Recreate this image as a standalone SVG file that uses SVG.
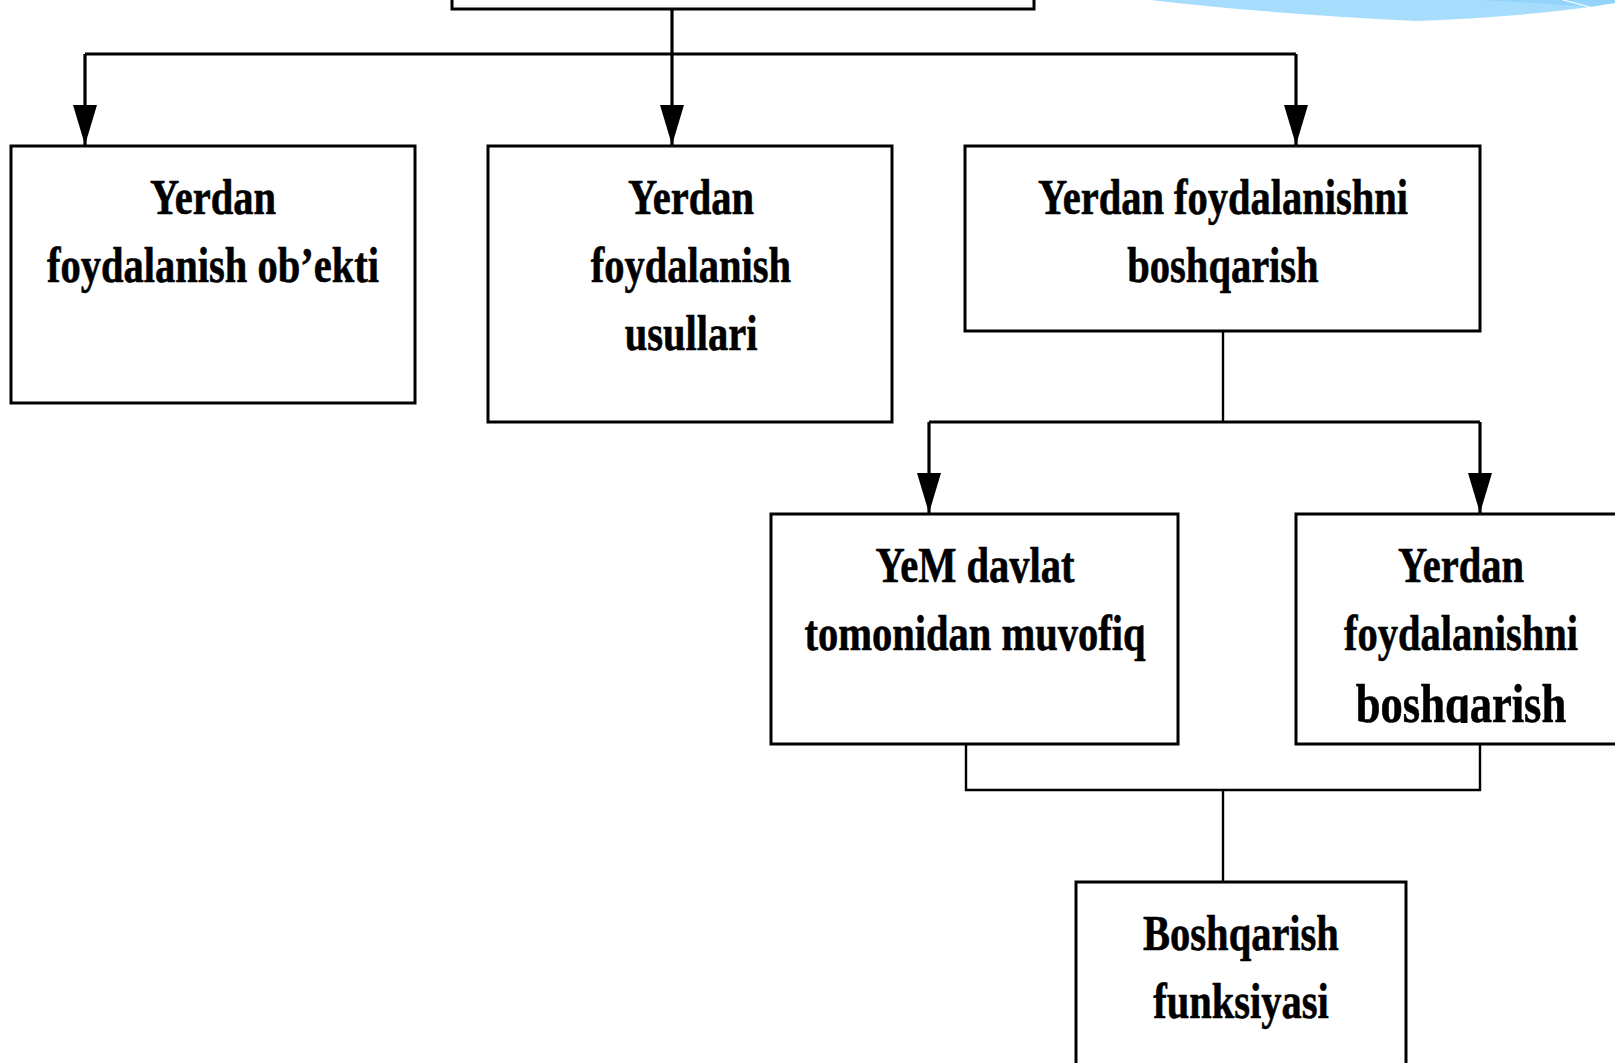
<svg xmlns="http://www.w3.org/2000/svg" width="1615" height="1063" viewBox="0 0 1615 1063">
  <style>
    .box { fill: #ffffff; stroke: #000000; stroke-width: 3; }
    .lbl { font-family: "Liberation Serif", "Times New Roman", serif; font-weight: bold; font-size: 50px; fill: #000000; stroke: #000000; stroke-width: 0.6; text-anchor: middle; }
    .thick { fill: none; stroke: #000000; stroke-width: 3.2; }
    .thin { fill: none; stroke: #000000; stroke-width: 2.4; }
  </style>
  <defs>
    <marker id="arrow" markerUnits="userSpaceOnUse" markerWidth="40" markerHeight="24" viewBox="0 0 40 24" refX="40" refY="12" orient="auto">
      <path d="M0,0 L40,12 L0,24 Z" fill="#000000"/>
    </marker>
    <clipPath id="clip5">
      <rect x="1296" y="514" width="400" height="209"/>
    </clipPath>
  </defs>
  <rect x="0" y="0" width="1615" height="1063" fill="#ffffff"/>

  <g id="decoration">
    <path d="M1150,0 Q1270,14 1417,21 Q1540,16 1615,3 L1615,0 Z" fill="#a7ddfc"/>
    <path d="M1477,0 L1615,0 L1615,3 Q1600,5 1590,7 Q1540,3 1477,0 Z" fill="#93d4fb"/>
    <path d="M1563,0 L1590,7" stroke="#ffffff" stroke-width="1.2" fill="none"/>
  </g>

  <g id="connectors">
    <path class="thick" d="M672,9 V54"/>
    <path class="thick" d="M85,54 H1296"/>
    <path class="thick" d="M85,54 V145" marker-end="url(#arrow)"/>
    <path class="thick" d="M672,54 V145" marker-end="url(#arrow)"/>
    <path class="thick" d="M1296,54 V145" marker-end="url(#arrow)"/>
    <path class="thin" d="M1223,331 V422"/>
    <path class="thick" d="M929,422 H1480"/>
    <path class="thick" d="M929,422 V513" marker-end="url(#arrow)"/>
    <path class="thick" d="M1480,422 V513" marker-end="url(#arrow)"/>
    <path class="thin" d="M966,744 V790 H1480 V744"/>
    <path class="thin" d="M1223,790 V882"/>
  </g>

  <g id="node-top">
    <rect class="box" x="452" y="-60" width="582" height="69"/>
  </g>

  <g id="node-obekti">
    <rect class="box" x="11" y="146" width="404" height="257"/>
    <text class="lbl" transform="translate(213 0) scale(0.81 1)" x="0" y="214">Yerdan</text>
    <text class="lbl" transform="translate(213 0) scale(0.81 1)" x="0" y="282">foydalanish ob’ekti</text>
  </g>

  <g id="node-usullari">
    <rect class="box" x="488" y="146" width="404" height="276"/>
    <text class="lbl" transform="translate(691 0) scale(0.81 1)" x="0" y="214">Yerdan</text>
    <text class="lbl" transform="translate(691 0) scale(0.81 1)" x="0" y="282">foydalanish</text>
    <text class="lbl" transform="translate(691 0) scale(0.81 1)" x="0" y="350">usullari</text>
  </g>

  <g id="node-boshqarish">
    <rect class="box" x="965" y="146" width="515" height="185"/>
    <text class="lbl" transform="translate(1223 0) scale(0.81 1)" x="0" y="214">Yerdan foydalanishni</text>
    <text class="lbl" transform="translate(1223 0) scale(0.81 1)" x="0" y="282">boshqarish</text>
  </g>

  <g id="node-yem">
    <rect class="box" x="771" y="514" width="407" height="230"/>
    <text class="lbl" transform="translate(975 0) scale(0.81 1)" x="0" y="582">YeM davlat</text>
    <text class="lbl" transform="translate(975 0) scale(0.81 1)" x="0" y="650">tomonidan muvofiq</text>
  </g>

  <g id="node-boshqarish2">
    <rect class="box" x="1296" y="514" width="340" height="230"/>
    <g clip-path="url(#clip5)">
      <text class="lbl" transform="translate(1461 0) scale(0.81 1)" x="0" y="582">Yerdan</text>
      <text class="lbl" transform="translate(1461 0) scale(0.81 1)" x="0" y="650">foydalanishni</text>
      <text class="lbl" transform="translate(1461 0) scale(0.81 1)" x="0" y="722" style="font-size:55px">boshqarish</text>
    </g>
  </g>

  <g id="node-funksiya">
    <rect class="box" x="1076" y="882" width="330" height="200"/>
    <text class="lbl" transform="translate(1241 0) scale(0.81 1)" x="0" y="950">Boshqarish</text>
    <text class="lbl" transform="translate(1241 0) scale(0.81 1)" x="0" y="1018">funksiyasi</text>
  </g>
</svg>
